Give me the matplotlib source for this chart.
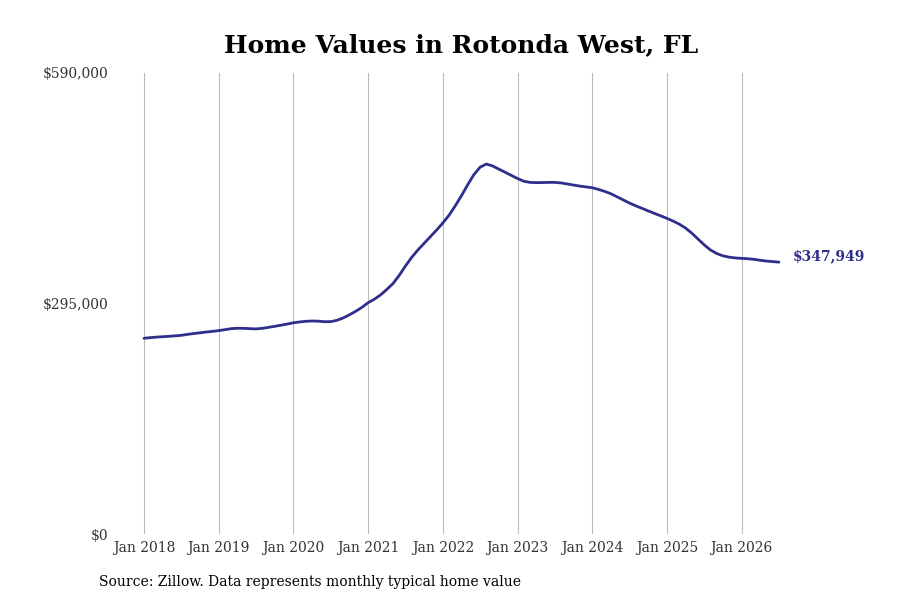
import matplotlib
matplotlib.use("Agg")
import matplotlib.pyplot as plt
import numpy as np

title = "Home Values in Rotonda West, FL"
source = "Source: Zillow. Data represents monthly typical home value"
start_year = 2018
values = [
    # 2018
    250500, 251300, 252000, 252500, 253000, 253600, 254300, 255500, 256600, 257500, 258500, 259300,
    # 2019
    260300, 261500, 262800, 263300, 263200, 262800, 262500, 263200, 264500, 265800, 267200, 268700,
    # 2020
    270300, 271400, 272200, 272600, 272400, 271700, 271800, 273500, 276500, 280500, 285000, 290000,
    # 2021
    296000, 300500, 306000, 313000, 320500, 331000, 343000, 354000, 363500, 372000, 380500, 389000,
    # 2022
    398000, 408000, 420000, 433000, 447000, 460000, 469500, 473500, 471000, 467000, 463000, 459000,
    # 2023
    455000, 451500, 450000, 449700, 449800, 450000, 450000, 449300, 448000, 446600, 445300, 444200,
    # 2024
    443200, 441000, 438500, 435500, 431500, 427500, 423500, 420000, 416800, 413500, 410300, 407200,
    # 2025
    404000, 400500, 396500, 391500, 385000, 377500, 370000, 363500, 359000, 356000, 354300, 353300,
    # 2026
    352800, 352300, 351500, 350300, 349300, 348600, 347949,
]
tick_labels = ["Jan 2018", "Jan 2019", "Jan 2020", "Jan 2021", "Jan 2022",
               "Jan 2023", "Jan 2024", "Jan 2025", "Jan 2026"]
y_ticks = [0, 295000, 590000]
y_tick_labels = ["$0", "$295,000", "$590,000"]
last_label = "$347,949"

line_color = "#2e2e8c"
plt.rcParams["font.family"] = ["DejaVu Serif"]

fig = plt.figure(figsize=(9, 6), dpi=100)
ax = fig.add_axes([112/900, 66/600, (810-112)/900, 461/600])

x = start_year + np.arange(len(values)) / 12.0
ax.plot(x, values, color=line_color, lw=2.0, solid_capstyle="round")

ax.set_ylim(0, 590000)
px_per_year = 74.7
ax.set_xlim(start_year - 32/px_per_year, start_year + (810-144)/px_per_year)
ax.set_yticks(y_ticks)
ax.set_yticklabels(y_tick_labels, fontsize=10, color="#333333")
ax.set_xticks(start_year + np.arange(len(tick_labels)))
ax.set_xticklabels(tick_labels, fontsize=10, color="#333333")
ax.tick_params(axis="both", length=0)
ax.tick_params(axis="y", pad=2.5)
ax.tick_params(axis="x", pad=5)
for s in ax.spines.values():
    s.set_visible(False)
ax.grid(axis="x", color="#bbbbbb", lw=0.8)
ax.grid(axis="y", visible=False)
ax.set_axisbelow(True)

ax.annotate(last_label, xy=(x[-1], values[-1]), xytext=(10, 4), textcoords="offset points",
            fontsize=10, fontweight="bold", color=line_color, va="center", ha="left")

fig.text(461/900, 0.925, title, ha="center", va="center", fontsize=18, fontweight="bold")
fig.text(99/900, 1 - 582/600, source, ha="left", va="center", fontsize=10, color="black")

fig.savefig("out.png", dpi=100)
